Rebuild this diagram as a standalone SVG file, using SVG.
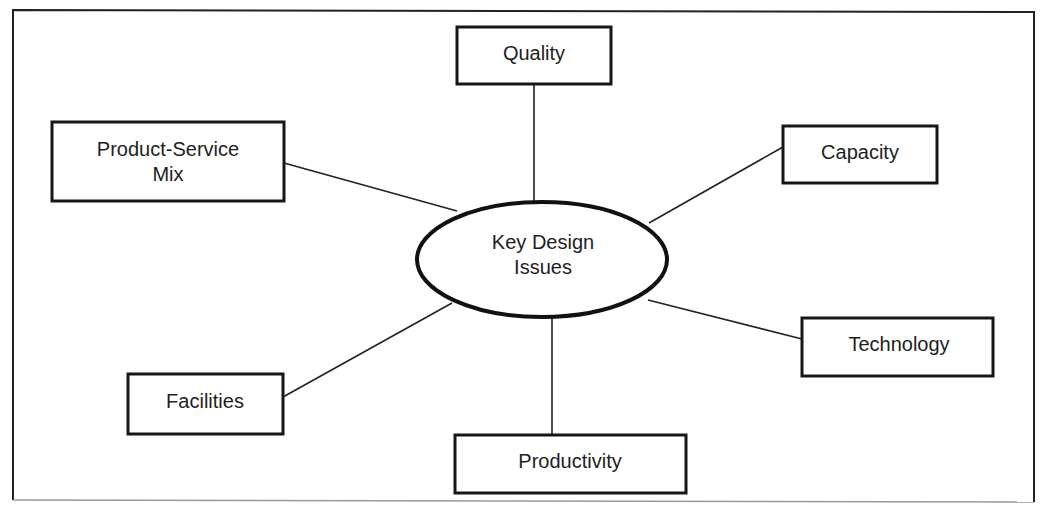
<svg xmlns="http://www.w3.org/2000/svg" width="1042" height="508" viewBox="0 0 1042 508">
<style>
.box{fill:#fff;stroke:#161616;stroke-width:3}
.lbl{font-family:"Liberation Sans",Arial,sans-serif;font-size:20px;fill:#1e1e1e;text-anchor:middle}
.conn line{stroke:#222;stroke-width:1.6}
.frame{fill:none;stroke:#222;stroke-width:2}
</style>
<rect width="1042" height="508" fill="#fff"/>
<path class="frame" d="M13,500 L13,10 L1034,12 L1034,502"/>
<path d="M13,500 L1034,502" stroke="#999" stroke-width="1.5" fill="none"/>
<g id="connectors" class="conn">
<line x1="534" y1="84" x2="534" y2="202"/>
<line x1="284" y1="163" x2="457" y2="211"/>
<line x1="783" y1="147" x2="649" y2="223"/>
<line x1="648" y1="300" x2="802" y2="339"/>
<line x1="283" y1="397" x2="452" y2="303"/>
<line x1="552" y1="317" x2="552" y2="435"/>
</g>
<g id="center">
<ellipse cx="542" cy="259.5" rx="125" ry="57.5" fill="#fff" stroke="#111" stroke-width="4"/>
<text class="lbl" x="543" y="249">Key Design</text>
<text class="lbl" x="543" y="274">Issues</text>
</g>
<g id="quality">
<rect class="box" x="457" y="27" width="154" height="57"/>
<text class="lbl" x="534" y="60">Quality</text>
</g>
<g id="product-service">
<rect class="box" x="52" y="122" width="232" height="79"/>
<text class="lbl" x="168" y="156">Product-Service</text>
<text class="lbl" x="168" y="181">Mix</text>
</g>
<g id="capacity">
<rect class="box" x="783" y="126" width="154" height="57"/>
<text class="lbl" x="860" y="159">Capacity</text>
</g>
<g id="technology">
<rect class="box" x="802" y="318" width="191" height="58"/>
<text class="lbl" x="899" y="351">Technology</text>
</g>
<g id="facilities">
<rect class="box" x="128" y="374" width="155" height="60"/>
<text class="lbl" x="205" y="408">Facilities</text>
</g>
<g id="productivity">
<rect class="box" x="455" y="435" width="231" height="58"/>
<text class="lbl" x="570" y="468">Productivity</text>
</g>
</svg>
